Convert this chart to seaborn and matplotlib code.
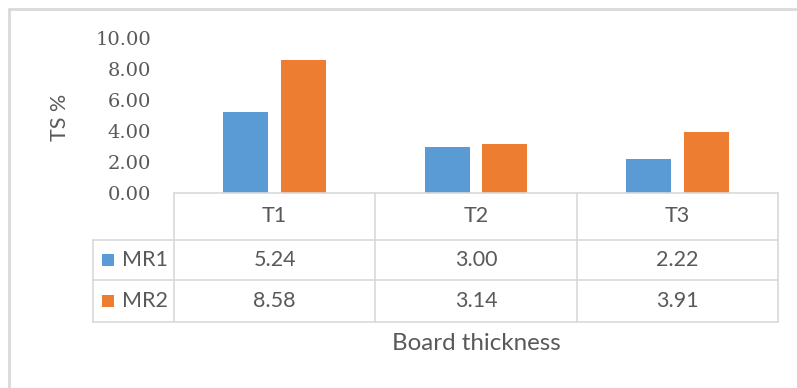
import matplotlib
matplotlib.use("Agg")
import matplotlib.pyplot as plt
from matplotlib.lines import Line2D
from matplotlib.patches import Rectangle
from matplotlib.ticker import FormatStrFormatter
import seaborn as sns
import pandas as pd

# Data
categories = ["T1", "T2", "T3"]
series = ["MR1", "MR2"]
mr1 = [5.24, 3.00, 2.22]
mr2 = [8.58, 3.14, 3.91]
y_ticks = [0, 2, 4, 6, 8, 10]

colors = ["#5B9BD5", "#ED7D31"]
text_color = "#595959"
grid_color = "#D9D9D9"

sns.set_theme(style="white")
plt.rcParams["font.family"] = ["Lato", "DejaVu Sans"]

W, H = 797, 388
fig = plt.figure(figsize=(W / 100, H / 100), dpi=100)
fig.patch.set_facecolor("white")


def fx(px):
    return px / W


def fy(py):
    return 1 - py / H


# Plot area: categories span x 174..778 px, values 0..10 span y 193..38 px
ax_left, ax_right, ax_top, ax_bottom = 174, 778, 38, 193
ax = fig.add_axes([fx(ax_left), fy(ax_bottom), fx(ax_right - ax_left), (ax_bottom - ax_top) / H])

df = pd.DataFrame({
    "thickness": categories * 2,
    "series": [series[0]] * 3 + [series[1]] * 3,
    "ts": mr1 + mr2,
})
sns.barplot(data=df, x="thickness", y="ts", hue="series", palette=colors,
            saturation=1, width=0.575, gap=0.224, legend=False, ax=ax,
            edgecolor="none", linewidth=0, errorbar=None)

ax.set_xlim(-0.5, 2.5)
ax.set_ylim(0, 10)
ax.set_yticks(y_ticks)
ax.yaxis.set_major_formatter(FormatStrFormatter("%.2f"))
ax.set_xticks([])
ax.set_xlabel("")
ax.set_ylabel("")
for s in ax.spines.values():
    s.set_visible(False)
ax.tick_params(axis="y", length=0, pad=16.5, labelcolor=text_color, labelsize=14)
for lbl in ax.get_yticklabels():
    lbl.set_family("DejaVu Serif")
ax.set_facecolor("none")

# Outer chart border (top and left edges visible)
lw_border = 2
fig.add_artist(Line2D([fx(9), fx(W + 5)], [fy(9), fy(9)], color=grid_color, lw=lw_border))
fig.add_artist(Line2D([fx(9), fx(9)], [fy(9), fy(H + 5)], color=grid_color, lw=lw_border))

# Data table
col_edges = [174, 375.3, 576.7, 778]
row_edges = [193, 240, 280, 322]
key_left = 93

lw = 1.2
# horizontal lines
fig.add_artist(Line2D([fx(col_edges[0]), fx(col_edges[-1])], [fy(row_edges[0])] * 2, color=grid_color, lw=lw))
for ry in row_edges[1:]:
    fig.add_artist(Line2D([fx(key_left), fx(col_edges[-1])], [fy(ry)] * 2, color=grid_color, lw=lw))
# vertical lines
fig.add_artist(Line2D([fx(key_left)] * 2, [fy(row_edges[1]), fy(row_edges[-1])], color=grid_color, lw=lw))
for cx in col_edges:
    fig.add_artist(Line2D([fx(cx)] * 2, [fy(row_edges[0]), fy(row_edges[-1])], color=grid_color, lw=lw))

fs = 15.5
# header row
for i, cat in enumerate(categories):
    cx = (col_edges[i] + col_edges[i + 1]) / 2
    fig.text(fx(cx), fy(216.5), cat, ha="center", va="center", fontsize=fs, color=text_color)

# value rows with legend keys
for r, (name, vals, col) in enumerate(zip(series, [mr1, mr2], colors)):
    cy = (row_edges[r + 1] + row_edges[r + 2]) / 2
    fig.add_artist(Rectangle((fx(102), fy(cy + 6)), fx(12), 12 / H, color=col, lw=0))
    fig.text(fx(122), fy(cy), name, ha="left", va="center", fontsize=fs, color=text_color)
    for i, v in enumerate(vals):
        cx = (col_edges[i] + col_edges[i + 1]) / 2
        fig.text(fx(cx), fy(cy), f"{v:.2f}", ha="center", va="center", fontsize=fs, color=text_color)

# Axis titles
fig.text(fx(60), fy(117), "TS %", rotation=90, ha="center", va="center", fontsize=fs, color=text_color)
fig.text(fx(476), fy(344), "Board thickness", ha="center", va="center", fontsize=17.4, color=text_color)

fig.savefig("out.png", dpi=100, facecolor="white")
